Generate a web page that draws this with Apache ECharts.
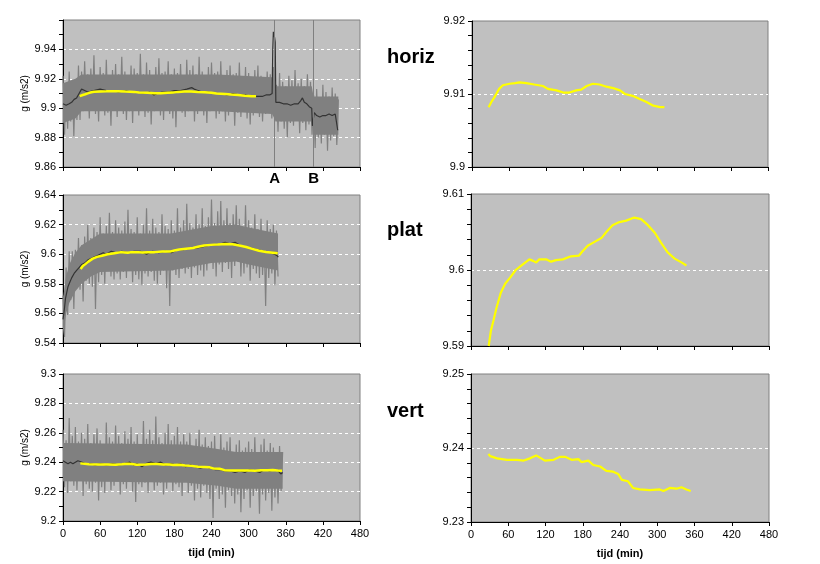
<!DOCTYPE html>
<html>
<head>
<meta charset="utf-8">
<script src="https://cdn.jsdelivr.net/npm/echarts@6/dist/echarts.min.js"></script>
<style>
html,body{margin:0;padding:0;background:#fff;}
#chart{width:820px;height:564px;}
</style>
</head>
<body>
<div id="chart"></div>
<script>
// ---------- DATA ----------
const xTicks = [0, 60, 120, 180, 240, 300, 360, 420, 480];
const rowLabels = ['horiz', 'plat', 'vert'];
const markA = 342, markB = 405;
const noiseStep = 2.5; // minutes between raw samples shown

// raw (noisy) readings, one every noiseStep minutes starting at t=0
const horizRaw = [
9.922,9.882,9.917,9.886,9.925,9.891,9.919,9.881,9.919,9.892,9.929,9.892,
9.925,9.898,9.932,9.901,9.923,9.893,9.927,9.899,9.936,9.896,9.922,9.891,9.928,9.900,9.924,9.895,9.933,9.897,9.921,9.888,
9.926,9.899,9.930,9.894,9.923,9.901,9.935,9.896,9.925,9.892,9.922,9.898,9.929,9.890,9.927,9.899,9.924,9.895,9.937,9.900,
9.923,9.894,9.931,9.897,9.926,9.889,9.922,9.898,9.928,9.899,9.934,9.895,9.924,9.892,9.925,9.900,9.932,9.896,9.923,9.893,
9.927,9.887,9.924,9.899,9.930,9.897,9.922,9.894,9.933,9.898,9.926,9.901,9.929,9.891,9.923,9.896,9.935,9.899,9.925,9.895,
9.922,9.890,9.928,9.898,9.931,9.900,9.924,9.893,9.925,9.896,9.932,9.898,9.922,9.891,9.926,9.895,9.929,9.899,9.923,9.888,
9.924,9.897,9.931,9.894,9.921,9.898,9.928,9.893,9.924,9.889,9.921,9.895,9.926,9.898,9.929,9.894,9.922,9.891,9.920,9.896,
9.925,9.897,9.923,9.893,
9.928,9.891,9.916,9.884,9.924,9.891,9.918,9.886,9.915,9.880,9.922,9.890,9.919,9.888,9.926,9.892,9.917,9.883,9.920,9.890,
9.915,9.885,9.923,9.889,9.918,9.882,
9.909,9.873,9.913,9.880,9.907,9.876,9.916,9.882,9.911,9.871,9.908,9.878,9.914,9.881,9.910,9.875,9.906];
const platRaw = [
9.572,9.544,9.591,9.559,9.602,9.569,9.602,9.563,9.603,9.577,9.611,9.576,9.606,9.568,9.612,9.582,9.620,9.580,9.611,9.578,
9.618,9.563,9.615,9.581,9.625,9.586,9.614,9.580,9.619,9.589,9.628,9.585,9.615,9.583,9.623,9.587,9.618,9.583,9.616,9.588,
9.622,9.584,9.630,9.589,9.617,9.581,9.615,9.586,9.625,9.583,9.614,9.579,9.620,9.587,9.631,9.585,9.616,9.588,9.624,9.582,
9.618,9.580,9.615,9.586,9.627,9.589,9.619,9.577,9.617,9.565,9.623,9.589,9.616,9.586,9.631,9.584,9.618,9.590,9.623,9.587,
9.634,9.590,9.621,9.584,9.618,9.591,9.627,9.586,9.620,9.589,9.631,9.585,9.619,9.589,9.625,9.594,9.637,9.590,9.621,9.585,
9.629,9.593,9.636,9.588,9.623,9.594,9.631,9.590,9.621,9.584,9.627,9.592,9.633,9.595,9.624,9.585,9.618,9.587,9.633,9.591,
9.623,9.582,9.618,9.590,9.627,9.587,9.617,9.584,9.624,9.586,9.614,9.565,9.623,9.584,9.617,9.587,9.620,9.579,9.616,9.585];
const vertRaw = [
9.262,9.223,9.255,9.219,9.270,9.227,9.258,9.224,9.264,9.221,9.254,9.228,9.260,9.217,9.256,9.225,9.266,9.222,9.253,9.220,
9.259,9.226,9.263,9.214,9.255,9.223,9.252,9.219,9.267,9.227,9.257,9.221,9.254,9.224,9.265,9.228,9.258,9.218,9.253,9.225,
9.261,9.222,9.256,9.227,9.264,9.220,9.254,9.213,9.259,9.225,9.252,9.223,9.268,9.226,9.256,9.219,9.262,9.227,9.255,9.221,
9.271,9.224,9.257,9.226,9.253,9.218,9.260,9.222,9.266,9.228,9.255,9.220,9.258,9.225,9.264,9.223,9.254,9.217,9.259,9.227,
9.254,9.219,9.260,9.224,9.251,9.214,9.256,9.222,9.262,9.216,9.252,9.224,9.257,9.219,9.251,9.215,9.254,9.202,9.258,9.222,
9.248,9.215,9.259,9.218,9.250,9.209,9.254,9.221,9.257,9.217,9.247,9.212,9.252,9.218,9.255,9.206,9.248,9.215,9.250,9.221,
9.254,9.209,9.249,9.217,9.257,9.220,9.247,9.205,9.252,9.218,9.256,9.214,9.248,9.219,9.253,9.207,9.250,9.216,9.246,9.212,
9.251,9.220,9.247];

// dense core of the raw scatter: [t, low, high]
const horizCore = [[0,9.890,9.917],[20,9.893,9.920],[30,9.898,9.923],[250,9.898,9.923],[338,9.896,9.921],[344,9.891,9.915],[402,9.891,9.915],[405,9.882,9.908],[445,9.882,9.908]];
const platCore = [[0,9.545,9.570],[5,9.560,9.585],[10,9.567,9.593],[20,9.575,9.601],[30,9.580,9.606],[45,9.585,9.610],[60,9.588,9.614],[175,9.589,9.614],[200,9.591,9.616],[240,9.594,9.619],[280,9.595,9.620],[300,9.593,9.618],[347.5,9.589,9.614]];
const vertCore = [[0,9.227,9.253],[200,9.226,9.252],[250,9.224,9.249],[280,9.222,9.247],[355,9.222,9.247]];

// running mean (dark line): [t, g]
const horizMean = [[0,9.903],[5,9.902],[10,9.903],[14,9.904],[18,9.906],[22,9.907],[26,9.910],[30,9.913],[35,9.912],[40,9.911],[50,9.912],[60,9.913],[70,9.912],[80,9.912],[90,9.911],[100,9.912],[110,9.911],[120,9.911],[130,9.910],[140,9.911],[147,9.909],[152,9.910],[160,9.911],[170,9.911],[180,9.912],[190,9.912],[200,9.913],[208,9.914],[212,9.913],[218,9.912],[225,9.911],[235,9.911],[245,9.910],[255,9.910],[265,9.909],[275,9.910],[285,9.909],[295,9.909],[305,9.908],[315,9.908],[322,9.908],[328,9.909],[334,9.909],[338,9.910],[339,9.940],[340,9.952],[342,9.948],[343,9.945],[344,9.904],[350,9.904],[356,9.903],[362,9.903],[368,9.902],[374,9.903],[380,9.903],[384,9.905],[387,9.907],[390,9.904],[394,9.903],[398,9.901],[402,9.900],[403,9.888],[405,9.888],[406,9.897],[410,9.895],[415,9.894],[420,9.895],[425,9.895],[430,9.896],[435,9.895],[440,9.896],[443,9.896],[444,9.885],[445,9.885]];
const platMean = [[0,9.556],[2,9.562],[4,9.570],[6,9.574],[8,9.578],[11,9.581],[14,9.584],[18,9.587],[22,9.589],[26,9.591],[30,9.593],[35,9.594],[40,9.596],[45,9.597],[50,9.598],[55,9.599],[60,9.600],[65,9.601],[70,9.600],[78,9.602],[86,9.601],[95,9.602],[105,9.601],[115,9.602],[125,9.602],[135,9.600],[145,9.602],[155,9.601],[165,9.602],[175,9.601],[185,9.603],[195,9.603],[205,9.604],[215,9.604],[225,9.605],[235,9.606],[245,9.606],[255,9.607],[262,9.608],[270,9.607],[278,9.608],[286,9.606],[295,9.605],[305,9.604],[315,9.603],[325,9.602],[335,9.601],[342,9.600],[346,9.599],[348,9.598]];
const vertMean = [[0,9.241],[4,9.240],[8,9.239],[12,9.240],[16,9.239],[20,9.240],[24,9.241],[27,9.242],[31,9.240],[36,9.239],[44,9.239],[52,9.238],[60,9.239],[70,9.238],[80,9.239],[90,9.238],[100,9.239],[108,9.240],[114,9.238],[120,9.239],[128,9.237],[134,9.239],[142,9.240],[150,9.239],[158,9.240],[166,9.238],[174,9.239],[182,9.238],[190,9.239],[198,9.237],[206,9.238],[214,9.237],[222,9.236],[230,9.237],[238,9.236],[246,9.235],[254,9.235],[262,9.234],[270,9.234],[278,9.233],[286,9.234],[294,9.233],[302,9.235],[310,9.234],[318,9.233],[326,9.235],[334,9.234],[342,9.235],[348,9.234],[352,9.232],[355,9.233]];

// smoothed trend (yellow): [t, g]
const horizTrend = [[27,9.9082],[32,9.909],[36,9.9095],[40,9.9101],[44,9.9107],[50,9.9112],[61,9.9114],[70,9.9115],[77,9.9116],[88,9.9115],[101,9.9113],[115,9.9111],[123,9.9107],[137,9.9105],[148,9.9102],[158,9.9102],[169,9.9105],[177,9.9106],[186,9.9111],[196,9.9114],[207,9.9113],[218,9.911],[229,9.9108],[240,9.9105],[248,9.91],[262,9.9097],[272,9.9093],[283,9.9089],[294,9.9084],[305,9.9082],[312,9.9082]];
const platTrend = [[28.5,9.59],[32,9.592],[36,9.5933],[41,9.595],[48,9.597],[55,9.5982],[63,9.599],[72,9.6],[83,9.6007],[94,9.6014],[100,9.6012],[105,9.601],[110,9.6014],[121,9.6014],[129,9.6011],[137,9.6013],[148,9.6014],[161,9.6018],[174,9.6019],[180,9.6025],[188,9.6032],[199,9.6037],[210,9.6042],[218,9.605],[228,9.6059],[239,9.6063],[250,9.6065],[263,9.6069],[274,9.6067],[285,9.6059],[296,9.6049],[306,9.6036],[317,9.6023],[328,9.6015],[339,9.601],[347,9.6006]];
const vertTrend = [[28,9.2392],[31,9.2389],[42,9.2386],[58,9.2384],[74,9.2384],[85,9.2383],[95,9.2386],[105,9.239],[111,9.2387],[119,9.2383],[133,9.2384],[143,9.2388],[152,9.2388],[162,9.2384],[173,9.2385],[178,9.2381],[189,9.2383],[197,9.2377],[208,9.2375],[218,9.2369],[229,9.2368],[237,9.2365],[243,9.2357],[253,9.2355],[261,9.2346],[272,9.2344],[288,9.2343],[304,9.2344],[310,9.2342],[320,9.2346],[331,9.2345],[339,9.2347],[347,9.2344],[354,9.2342]];

// axis ranges
const leftRanges = [[9.86, 9.96, 0.02], [9.54, 9.64, 0.02], [9.2, 9.3, 0.02]];
const rightRanges = [[9.9, 9.92, 0.01], [9.59, 9.61, 0.01], [9.23, 9.25, 0.01]];

// ---------- LAYOUT ----------
const FONT = '"Liberation Sans", Arial, sans-serif';
const grids = [
  {left: 63, top: 20, width: 297, height: 147},
  {left: 63, top: 195, width: 297, height: 148},
  {left: 63, top: 374, width: 297, height: 147},
  {left: 472, top: 21, width: 296, height: 146},
  {left: 471, top: 194, width: 298, height: 152},
  {left: 471, top: 374, width: 298, height: 148}
].map(g => Object.assign({show: true, backgroundColor: '#C0C0C0', borderColor: '#808080', borderWidth: 1, containLabel: false}, g));

const xAxes = grids.map((g, i) => ({
  type: 'value', gridIndex: i, min: xTicks[0], max: xTicks[xTicks.length - 1], interval: xTicks[1] - xTicks[0],
  axisLine: {show: true, lineStyle: {color: '#000', width: 1}},
  axisTick: {show: true, length: 4, lineStyle: {color: '#000'}},
  axisLabel: {show: i === 2 || i === 5, color: '#000', fontSize: 11, fontFamily: FONT, margin: 7},
  splitLine: {show: false},
  name: (i === 2 || i === 5) ? 'tijd (min)' : '',
  nameLocation: 'middle', nameGap: 26,
  nameTextStyle: {color: '#000', fontSize: 11, fontWeight: 'bold', fontFamily: FONT}
}));

const allRanges = leftRanges.concat(rightRanges);
const yAxes = allRanges.map((r, i) => ({
  type: 'value', gridIndex: i, min: r[0], max: r[1], interval: r[2],
  axisLine: {show: true, lineStyle: {color: '#000', width: 1}},
  axisTick: {show: true, length: 4, lineStyle: {color: '#000'}},
  minorTick: {show: true, splitNumber: i < 3 ? 2 : 5, length: 4, lineStyle: {color: '#000'}},
  axisLabel: {color: '#000', fontSize: 11, fontFamily: FONT, margin: 7, showMaxLabel: i !== 0},
  splitLine: {show: true, showMinLine: false, showMaxLine: false, lineStyle: {color: '#FFFFFF', type: [3, 3], width: 1}},
  minorSplitLine: {show: false},
  name: i < 3 ? 'g (m/s2)' : '',
  nameLocation: 'middle', nameGap: 31, nameRotate: 90,
  nameTextStyle: {color: '#000', fontSize: 10, fontFamily: FONT}
}));

const raws = [horizRaw, platRaw, vertRaw];
const cores = [horizCore, platCore, vertCore];
const means = [horizMean, platMean, vertMean];
const trends = [horizTrend, platTrend, vertTrend];

function bandRenderer(core) {
  return function (params, api) {
    const upper = core.map(c => api.coord([c[0], c[2]]));
    const lower = core.slice().reverse().map(c => api.coord([c[0], c[1]]));
    return {
      type: 'polygon',
      shape: {points: upper.concat(lower)},
      style: {fill: '#808080', stroke: null}
    };
  };
}

const series = [];
for (let p = 0; p < 3; p++) {
  series.push({
    type: 'custom', xAxisIndex: p, yAxisIndex: p, silent: true, clip: true,
    data: [[cores[p][0][0], cores[p][0][1]]],
    renderItem: bandRenderer(cores[p]),
    z: 1
  });
  series.push({
    type: 'line', xAxisIndex: p, yAxisIndex: p, symbol: 'none', silent: true,
    data: raws[p].map((v, k) => [k * noiseStep, v]),
    lineStyle: {color: '#808080', width: 1.2}, z: 2
  });
  const meanSeries = {
    type: 'line', xAxisIndex: p, yAxisIndex: p, symbol: 'none', silent: true,
    data: means[p],
    lineStyle: {color: '#333333', width: 1.2}, z: 3
  };
  if (p === 0) {
    meanSeries.markLine = {
      silent: true, symbol: 'none',
      lineStyle: {color: '#808080', width: 1, type: 'solid'},
      label: {show: true, position: 'start', distance: 4, color: '#000', fontSize: 15, fontWeight: 'bold', fontFamily: FONT},
      data: [{xAxis: markA, label: {formatter: 'A'}}, {xAxis: markB, label: {formatter: 'B'}}]
    };
  }
  series.push(meanSeries);
  series.push({
    type: 'line', xAxisIndex: p, yAxisIndex: p, symbol: 'none', silent: true,
    data: trends[p], lineStyle: {color: '#FFFF00', width: 2.5}, z: 4
  });
  series.push({
    type: 'line', xAxisIndex: p + 3, yAxisIndex: p + 3, symbol: 'none', silent: true,
    data: trends[p], lineStyle: {color: '#FFFF00', width: 2.2}, z: 4
  });
}

const labelY = [58.5, 231, 412];
const graphic = rowLabels.map((t, i) => ({
  type: 'text', left: 387, top: labelY[i] - 11,
  style: {text: t, font: 'bold 20px ' + FONT, fill: '#000'}
}));

const chart = echarts.init(document.getElementById('chart'), null, {renderer: 'canvas'});
chart.setOption({
  animation: false,
  backgroundColor: '#FFFFFF',
  grid: grids, xAxis: xAxes, yAxis: yAxes, series: series, graphic: graphic
});
</script>
</body>
</html>
